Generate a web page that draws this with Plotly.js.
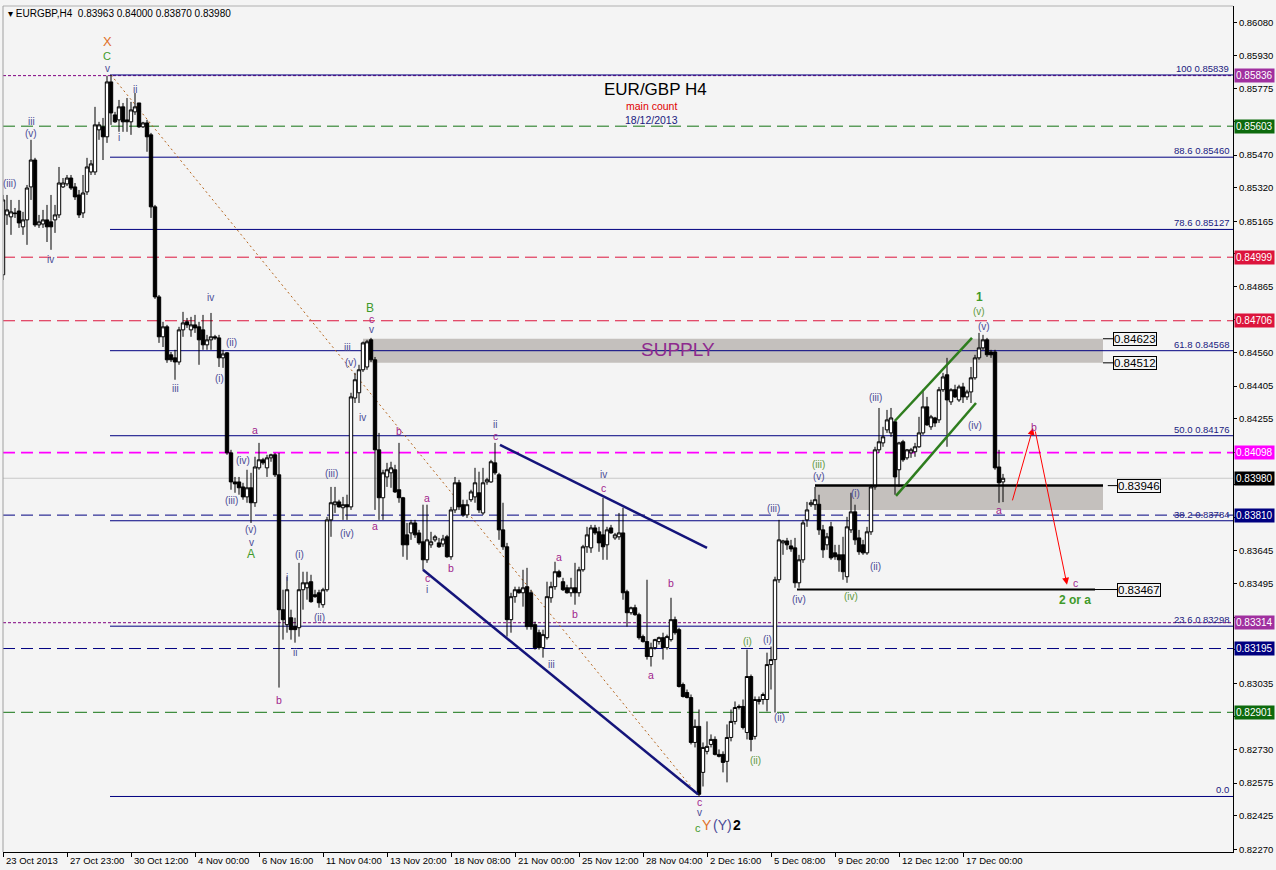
<!DOCTYPE html>
<html><head><meta charset="utf-8">
<script src="https://cdn.plot.ly/plotly-3.0.1.min.js"></script>
<style>html,body{margin:0;padding:0;background:#f4f4f4;}#chart{width:1276px;height:870px;}</style>
</head><body><div id="chart"></div>
<script>
// ---- OHLC data (EURGBP H4), bar index 0..250 ----
const opens = [
.84918,.85194,.85185,.85203,.85212,.85139,.85171,.85323,.85447,.85148,
.85152,.85171,.85162,.85171,.85194,.85323,.85337,.85364,.85323,.85286,
.85203,.85300,.85392,.85392,.85586,.85600,.85554,.85807,.85655,.85632,
.85692,.85632,.85623,.85669,.85710,.85600,.85618,.85563,.85231,.84816,
.84632,.84678,.84549,.84535,.84516,.84664,.84701,.84664,.84687,.84678,
.84664,.84595,.84618,.84632,.84627,.84535,.84558,.84097,.83963,.83963,
.83940,.83894,.83936,.83867,.84028,.84065,.84028,.84074,.84088,.83996,
.83374,.83305,.83337,.83296,.83291,.83466,.83475,.83503,.83443,.83452,
.83397,.83466,.83788,.83858,.83871,.83844,.83858,.83848,.84350,.84374,
.84480,.84493,.84618,.84526,.84111,.83890,.83986,.84005,.84019,.83927,
.83890,.83719,.83728,.83774,.83728,.83687,.83604,.83673,.83696,.83682,
.83677,.83710,.83618,.83834,.83959,.83858,.83811,.83881,.83894,.83913,
.83820,.83963,.83963,.84051,.83996,.83742,.83664,.83328,.83434,.83466,
.83452,.83480,.83452,.83305,.83268,.83199,.83245,.83429,.83480,.83549,
.83503,.83475,.83452,.83475,.83452,.83558,.83664,.83659,.83751,.83733,
.83719,.83673,.83751,.83705,.83710,.83728,.83457,.83360,.83383,.83351,
.83250,.83227,.83158,.83199,.83227,.83245,.83199,.83236,.83328,.83282,
.83029,.82992,.82969,.82762,.82836,.82624,.82721,.82753,.82776,.82707,
.82707,.82675,.82785,.82859,.82923,.82928,.82808,.83066,.82790,.82951,
.82960,.82960,.83121,.83144,.83512,.83682,.83691,.83668,.83659,.83498,
.83604,.83788,.83858,.83858,.83860,.83742,.83673,.83756,.83636,.83627,
.83627,.83526,.83742,.83825,.83705,.83673,.83636,.83733,.83940,.84111,
.84143,.84203,.84189,.84240,.84019,.84148,.84074,.84097,.84102,.84125,
.84189,.84309,.84217,.84258,.84249,.84388,.84457,.84332,.84388,.84341,
.84401,.84355,.84378,.84443,.84535,.84581,.84618,.84562,.84562,.84032,
.83963];
const highs = [
.85286,.85286,.85263,.85226,.85263,.85208,.85332,.85540,.85457,.85194,
.85217,.85240,.85286,.85240,.85415,.85364,.85378,.85378,.85341,.85309,
.85378,.85457,.85447,.85692,.85623,.85641,.85836,.85839,.85669,.85724,
.85710,.85733,.85715,.85756,.85710,.85623,.85632,.85572,.85240,.84825,
.84701,.84687,.84562,.84572,.84678,.84747,.84719,.84724,.84733,.84701,
.84733,.84641,.84742,.84641,.84641,.84572,.84562,.84111,.83986,.83986,
.83959,.84019,.84005,.84079,.84143,.84074,.84088,.84093,.84097,.84097,
.83466,.83526,.83374,.83337,.83590,.83549,.83549,.83535,.83466,.83466,
.83475,.83802,.83940,.83940,.83881,.83894,.83904,.84374,.84466,.84503,
.84610,.84618,.84627,.84539,.84189,.84019,.84051,.84056,.84042,.84143,
.83894,.83774,.83788,.83788,.83742,.83858,.83858,.83733,.83719,.83705,
.83719,.83719,.83848,.83986,.83973,.83881,.83881,.83927,.84028,.84010,
.84028,.83982,.84065,.84143,.84005,.83867,.83682,.83452,.83480,.83480,
.83558,.83567,.83466,.83319,.83282,.83282,.83503,.83503,.83595,.83558,
.83521,.83489,.83521,.83590,.83572,.83673,.83756,.83765,.83765,.83756,
.83890,.83756,.83765,.83728,.83820,.83844,.83466,.83388,.83397,.83360,
.83259,.83512,.83222,.83240,.83250,.83268,.83259,.83429,.83342,.83291,
.83038,.83006,.82983,.82868,.82914,.82762,.82859,.82799,.82790,.82730,
.82721,.82845,.82914,.82951,.82937,.82960,.83190,.83075,.82974,.82974,
.82992,.83176,.83204,.83526,.83788,.83696,.83705,.83696,.83705,.83627,
.83788,.83871,.83881,.83940,.83904,.83765,.83728,.83779,.83673,.83673,
.83710,.83802,.83913,.83858,.83742,.83696,.83756,.83950,.84125,.84304,
.84217,.84295,.84304,.84249,.84148,.84157,.84115,.84120,.84143,.84263,
.84388,.84355,.84272,.84263,.84401,.84466,.84535,.84395,.84411,.84411,
.84420,.84388,.84493,.84549,.84650,.84641,.84627,.84572,.84572,.84111,
.84000];
const lows = [
.84894,.85148,.85102,.85180,.85134,.85102,.85056,.85263,.85139,.85134,
.85134,.85069,.85033,.85111,.85180,.85318,.85327,.85309,.85263,.85180,
.85180,.85286,.85378,.85378,.85540,.85447,.85526,.85609,.85618,.85577,
.85577,.85577,.85563,.85655,.85595,.85595,.85485,.85180,.84807,.84604,
.84585,.84512,.84516,.84434,.84503,.84632,.84673,.84632,.84650,.84503,
.84572,.84572,.84572,.84618,.84493,.84489,.84088,.83927,.83913,.83904,
.83881,.83867,.83774,.83848,.84019,.84042,.83986,.84056,.83986,.83015,
.83236,.83268,.83236,.83222,.83250,.83374,.83420,.83406,.83429,.83383,
.83383,.83457,.83710,.83820,.83845,.83788,.83788,.83834,.84327,.84327,
.84470,.84480,.84516,.83834,.83788,.83788,.83940,.83936,.83912,.83867,
.83618,.83604,.83696,.83705,.83673,.83558,.83590,.83659,.83687,.83659,
.83664,.83613,.83604,.83820,.83834,.83802,.83797,.83871,.83867,.83820,
.83811,.83950,.83959,.83996,.83696,.83650,.83250,.83268,.83406,.83448,
.83388,.83282,.83282,.83190,.83190,.83153,.83236,.83406,.83466,.83522,
.83460,.83448,.83434,.83397,.83434,.83549,.83636,.83636,.83719,.83641,
.83604,.83604,.83724,.83696,.83696,.83420,.83296,.83351,.83346,.83236,
.83222,.83144,.83112,.83190,.83213,.83144,.83190,.83227,.83259,.83015,
.82969,.82965,.82753,.82739,.82513,.82559,.82707,.82739,.82702,.82693,
.82624,.82578,.82767,.82845,.82914,.82822,.82776,.82721,.82776,.82937,
.82937,.82905,.83006,.82900,.83498,.83627,.83650,.83641,.83475,.83475,
.83590,.83756,.83848,.83834,.83719,.83613,.83650,.83604,.83604,.83549,
.83512,.83498,.83728,.83673,.83627,.83627,.83627,.83719,.83927,.84097,
.84125,.84189,.84171,.83904,.83940,.84056,.84065,.84074,.84079,.84120,
.84180,.84222,.84203,.84217,.84235,.84378,.84125,.84318,.84350,.84332,
.84327,.84341,.84327,.84434,.84526,.84572,.84539,.84535,.84019,.83867,
.83870];
const closes = [
.85263,.85217,.85208,.85200,.85157,.85171,.85318,.85447,.85148,.85162,
.85171,.85139,.85139,.85194,.85341,.85341,.85364,.85318,.85277,.85194,
.85295,.85415,.85429,.85609,.85609,.85554,.85807,.85664,.85623,.85692,
.85623,.85623,.85678,.85692,.85600,.85618,.85554,.85231,.84816,.84632,
.84678,.84526,.84526,.84516,.84664,.84696,.84687,.84687,.84673,.84618,
.84595,.84618,.84632,.84627,.84535,.84553,.84097,.83963,.83954,.83936,
.83894,.83936,.83867,.84032,.84065,.84051,.84074,.84088,.83996,.83374,
.83328,.83466,.83282,.83282,.83466,.83498,.83498,.83411,.83434,.83406,
.83466,.83788,.83867,.83871,.83848,.83858,.83848,.84355,.84434,.84480,
.84604,.84609,.84526,.84111,.83890,.84005,.84019,.84028,.83917,.83890,
.83673,.83673,.83774,.83719,.83682,.83604,.83696,.83687,.83710,.83664,
.83700,.83618,.83834,.83959,.83848,.83811,.83858,.83917,.83959,.83834,
.83959,.83973,.84056,.84005,.83742,.83664,.83328,.83434,.83466,.83452,
.83475,.83296,.83296,.83199,.83199,.83259,.83434,.83480,.83549,.83526,
.83466,.83452,.83475,.83452,.83558,.83664,.83719,.83751,.83728,.83682,
.83664,.83742,.83728,.83719,.83728,.83452,.83360,.83383,.83351,.83245,
.83227,.83158,.83199,.83236,.83245,.83199,.83250,.83328,.83268,.83020,
.82974,.82969,.82762,.82836,.82523,.82739,.82744,.82776,.82707,.82698,
.82670,.82785,.82859,.82923,.82928,.82831,.83066,.82776,.82960,.82960,
.82983,.83121,.83144,.83512,.83696,.83691,.83673,.83654,.83498,.83604,
.83774,.83834,.83867,.83881,.83742,.83650,.83710,.83613,.83618,.83604,
.83549,.83756,.83825,.83696,.83641,.83636,.83733,.83940,.84111,.84148,
.84171,.84249,.84258,.83986,.84143,.84065,.84111,.84111,.84125,.84189,
.84309,.84226,.84263,.84235,.84388,.84447,.84341,.84388,.84355,.84401,
.84355,.84378,.84443,.84535,.84581,.84618,.84549,.84549,.84028,.83959,
.83980];

// time axis labels (every 16 bars)
const xTickIdx = [0,16,32,48,64,80,96,112,128,144,160,176,192,208,224,240];
const xTickLabels = ["23 Oct 2013","27 Oct 23:00","30 Oct 12:00","4 Nov 00:00","6 Nov 16:00","11 Nov 04:00","13 Nov 20:00","18 Nov 08:00","21 Nov 00:00","25 Nov 12:00","28 Nov 04:00","2 Dec 16:00","5 Dec 08:00","9 Dec 20:00","12 Dec 12:00","17 Dec 00:00"];
// price axis ticks (labels hidden under the price tags are left blank)
const yTickVals = [0.86080,0.85930,0.85775,0.85625,0.85470,0.85320,0.85165,0.85015,0.84865,0.84710,0.84560,0.84405,0.84255,0.84100,0.83950,0.83800,0.83645,0.83495,0.83340,0.83190,0.83035,0.82880,0.82730,0.82575,0.82425,0.82270];
const yTickText = ["0.86080","0.85930","0.85775","","0.85470","0.85320","0.85165","","0.84865","","0.84560","0.84405","0.84255","","","","0.83645","0.83495","","","0.83035","","0.82730","0.82575","0.82425","0.82270"];
// fibonacci retracement
const fiboPct = ["100","88.6","78.6","61.8","50.0","38.2","23.6","0.0"];
const fiboLevels = [0.85839,0.85460,0.85127,0.84568,0.84176,0.83784,0.83298,0.82513];
// horizontal levels with price tags
const hLevels = [0.85836,0.85603,0.84999,0.84706,0.84098,0.83980,0.83810,0.83314,0.83195,0.82901];
const hKinds  = ["purpleDot","greenDash","redDash","redDash","magentaDash","current","navyDash","purpleDot","navyDash","greenDash"];
// zones / marked levels
const supplyZone = [0.84512,0.84623];
const demandZone = [0.83834,0.83946];
const targetLevel = 0.83467;

const FONT = "Liberation Sans, Arial, sans-serif";
const styles = {
  purpleDot:{line:'#800080', dash:'3px,2px', w:1, tag:'#a0309f'},
  greenDash:{line:'#137313', dash:'12px,6px', w:1, tag:'#0d6a0d'},
  redDash:{line:'#dc143c', dash:'12px,6px', w:1, tag:'#dc143c'},
  magentaDash:{line:'#ff00ff', dash:'12px,6px', w:1.6, tag:'#ff00ff'},
  current:{line:'#c8c8c8', dash:'solid', w:1, tag:'#000000'},
  navyDash:{line:'#000080', dash:'12px,6px', w:1, tag:'#000080'}
};

const idx = opens.map((_, i) => i);
const trace = {
  type:'candlestick', x: idx, open: opens, high: highs, low: lows, close: closes,
  increasing:{line:{color:'#000000', width:1}, fillcolor:'#ffffff'},
  decreasing:{line:{color:'#000000', width:1}, fillcolor:'#000000'},
  whiskerwidth:0, hoverinfo:'skip', showlegend:false
};

const shapes = [];
const annotations = [];
const XMAX = 307.5;
// zones
shapes.push({type:'rect', xref:'x', yref:'y', x0:90, x1:275, y0:supplyZone[0], y1:supplyZone[1], fillcolor:'#c4c0bd', line:{width:0}, layer:'below'});
shapes.push({type:'rect', xref:'x', yref:'y', x0:203, x1:275, y0:demandZone[0], y1:demandZone[1], fillcolor:'#c4c0bd', line:{width:0}, layer:'below'});
// horizontal full-width levels
hLevels.forEach((lv, k) => {
  const s = styles[hKinds[k]];
  shapes.push({type:'line', xref:'paper', yref:'y', x0:0, x1:1, y0:lv, y1:lv, line:{color:s.line, width:s.w, dash:s.dash}, layer:'below'});
  annotations.push({xref:'paper', yref:'y', x:1, y:lv, xanchor:'left', yanchor:'middle', xshift:1, text:lv.toFixed(5), showarrow:false,
    font:{family:FONT, size:10, color:'#ffffff'}, bgcolor:s.tag, borderpad:1});
});
// fibonacci lines & labels
fiboLevels.forEach((lv, k) => {
  shapes.push({type:'line', xref:'x', yref:'y', x0:26.75, x1:XMAX, y0:lv, y1:lv, line:{color:'#000080', width:1}, layer:'below'});
  annotations.push({xref:'paper', yref:'y', x:1, y:lv, xanchor:'right', yanchor:'bottom', xshift:-2, yshift:-1,
    text: k === fiboLevels.length - 1 ? fiboPct[k] : fiboPct[k] + ' ' + lv.toFixed(5), showarrow:false,
    font:{family:FONT, size:9.5, color:'#1a1a80'}});
});
// thick black level lines
shapes.push({type:'line', xref:'x', yref:'y', x0:203, x1:275, y0:demandZone[1], y1:demandZone[1], line:{color:'#000', width:2.5}});
shapes.push({type:'line', xref:'x', yref:'y', x0:198.5, x1:273, y0:targetLevel, y1:targetLevel, line:{color:'#000', width:2}});
// boxed price labels with leaders
const boxed = [[supplyZone[1], 275, 277.6],[supplyZone[0], 275, 277.6],[demandZone[1], 276.2, 278.6],[targetLevel, 273, 278.6]];
boxed.forEach(([lv, a, b]) => {
  shapes.push({type:'line', xref:'x', yref:'y', x0:a, x1:b, y0:lv, y1:lv, line:{color:'#000', width:1}});
  annotations.push({xref:'x', yref:'y', x:b, y:lv, xanchor:'left', yanchor:'middle', text:lv.toFixed(5), showarrow:false,
    font:{family:FONT, size:11.5, color:'#000'}, bordercolor:'#000', borderwidth:1, borderpad:0});
});
// trend / channel lines
shapes.push({type:'line', xref:'x', yref:'y', x0:27, y0:0.85839, x1:174, y1:0.82513, line:{color:'#b5651d', width:1, dash:'2px,3px'}, layer:'below'});
shapes.push({type:'line', xref:'x', yref:'y', x0:105, y0:0.83558, x1:173.75, y1:0.82523, line:{color:'#14147a', width:2.5}});
shapes.push({type:'line', xref:'x', yref:'y', x0:124.25, y0:0.84134, x1:176, y1:0.83659, line:{color:'#14147a', width:2.5}});
shapes.push({type:'line', xref:'x', yref:'y', x0:223, y0:0.84245, x1:242.25, y1:0.84627, line:{color:'#2e7d1e', width:2.5}});
shapes.push({type:'line', xref:'x', yref:'y', x0:223.25, y0:0.83899, x1:243.25, y1:0.84327, line:{color:'#2e7d1e', width:2.5}});
// frame
shapes.push({type:'line', xref:'paper', yref:'paper', x0:0, x1:1, y0:1, y1:1, line:{color:'#b0b0b0', width:1}});
shapes.push({type:'line', xref:'paper', yref:'paper', x0:0, x1:0, y0:0, y1:1, line:{color:'#a0a0a0', width:1}});

// projected path arrows
annotations.push({xref:'x', yref:'y', axref:'x', ayref:'y', x:257.5, y:0.84212, ax:252.25, ay:0.83871, text:'', showarrow:true, arrowhead:2, arrowsize:1.4, arrowwidth:1, arrowcolor:'#ff0000'});
annotations.push({xref:'x', yref:'y', axref:'x', ayref:'y', x:266, y:0.83489, ax:258, ay:0.84203, text:'', showarrow:true, arrowhead:2, arrowsize:1.4, arrowwidth:1, arrowcolor:'#ff0000'});

// x labels
xTickIdx.forEach((p, k) => annotations.push({xref:'x', yref:'paper', x:p, y:0, xanchor:'left', yanchor:'top', xshift:1, yshift:-1,
  text:xTickLabels[k], showarrow:false, font:{family:FONT, size:9.5, color:'#000'}}));

// wave labels
const C = {n:'#4a4a96', p:'#a01e8c', g:'#3f9a2a', gr:'#5f9a3c', o:'#e07028', k:'#000000', r:'#e00000', nv:'#1a1a80', pu:'#8e2a8e'};
const labels = [
 ['X',26,0.85993,'o',13],['C',26,0.85925,'g',11],['v',26,0.85870,'n',10],
 ['(iii)',1.5,0.85337,'n',10],['iii',7,0.85623,'n',10],['(v)',7,0.85567,'n',10],['iv',11.75,0.84987,'n',10],
 ['ii',33,0.85770,'n',10],['i',29,0.85549,'n',10],['iv',51.75,0.84811,'n',10],['(ii)',57,0.84604,'n',10],
 ['(i)',54,0.84438,'n',10],['iii',43,0.84392,'n',10],['a',63,0.84203,'p',10.5],['(iv)',60,0.84060,'n',10],
 ['(iii)',57,0.83876,'n',10],['(v)',62,0.83742,'n',10],['v',62,0.83682,'n',10],['A',62,0.83631,'g',12],
 ['(i)',74,0.83627,'n',10],['i',71,0.83521,'n',10],['(ii)',79,0.83336,'n',10],['ii',73,0.83179,'n',10],
 ['b',69,0.82960,'p',10.5],['(iii)',82,0.84000,'n',10],['(iv)',86,0.83723,'n',10],['iii',86,0.84585,'n',10],
 ['(v)',87,0.84512,'n',10],['iv',89.75,0.84258,'n',10],['B',91.75,0.84765,'g',12],['c',92,0.84714,'p',10.5],
 ['v',92,0.84664,'n',10],['a',93,0.83760,'p',10.5],['b',99,0.84198,'p',10.5],['a',106,0.83890,'p',10.5],
 ['c',106,0.83521,'p',10.5],['i',106,0.83466,'n',10],['b',112,0.83567,'p',10.5],['ii',123,0.84226,'n',10],
 ['c',123,0.84175,'p',10.5],['iv',150,0.83996,'n',10],['c',150,0.83936,'p',10.5],['a',139,0.83618,'p',10.5],
 ['b',143,0.83355,'p',10.5],['iii',137,0.83120,'n',10],['b',167,0.83498,'p',10.5],['a',162,0.83075,'p',10.5],
 ['c',174,0.82488,'p',10.5],['v',174,0.82437,'n',10],
 ['c',173.75,0.82366,'g',11],['Y',176,0.82382,'o',14],['(Y)',179.75,0.82382,'n',14],['<b>2</b>',183.5,0.82382,'k',14],
 ['(i)',186,0.83227,'gr',10],['(i)',191,0.83236,'n',10],['(ii)',188,0.82677,'gr',10],['(ii)',194,0.82875,'n',10],
 ['(iii)',192.5,0.83839,'n',10],['(iv)',199,0.83420,'n',10],['(iii)',203.75,0.84042,'gr',10],['(v)',204,0.83986,'n',10],
 ['(i)',213,0.83908,'n',10],['(iv)',212,0.83433,'gr',10],['(ii)',218,0.83572,'n',10],['(iii)',218,0.84350,'n',10],
 ['<b>1</b>',244,0.84816,'g',12],['(v)',244,0.84747,'gr',10],['(v)',245.25,0.84678,'n',10],['(iv)',243,0.84221,'n',10],
 ['b',257.75,0.84217,'p',10.5],['a',249,0.83834,'p',10.5],['c',268,0.83498,'p',10.5],['<b>2 or a</b>',268,0.83420,'g',12],
 ['EUR/GBP H4',163,0.85770,'k',17],['main count',162,0.85697,'r',10.5],['18/12/2013',162,0.85632,'nv',10.5],
 ['SUPPLY',168.75,0.84572,'pu',19]
];
labels.forEach(([t, x, y, c, s]) => annotations.push({xref:'x', yref:'y', x:x, y:y, text:t, showarrow:false,
  xanchor:'center', yanchor:'middle', borderpad:0, font:{family:FONT, size:s, color:C[c]}}));
// header
annotations.push({xref:'paper', yref:'paper', x:0, y:1, xanchor:'left', yanchor:'top', xshift:3, yshift:0,
  text:'\u25BE EURGBP,H4  0.83963 0.84000 0.83870 0.83980', showarrow:false, font:{family:FONT, size:10, color:'#000'}});

const layout = {
  width:1276, height:870,
  margin:{l:3, r:43, t:6, b:18, autoexpand:false},
  paper_bgcolor:'#f4f4f4', plot_bgcolor:'#f4f4f4',
  showlegend:false, boxgap:0.15, boxgroupgap:0,
  xaxis:{type:'linear', range:[0, XMAX], showgrid:false, zeroline:false, rangeslider:{visible:false},
    showline:true, linecolor:'#000', linewidth:1, ticks:'outside', ticklen:4, tickcolor:'#000',
    tickvals:xTickIdx, showticklabels:false, fixedrange:true},
  yaxis:{side:'right', range:[0.82257, 0.86157], showgrid:false, zeroline:false, showline:true, linecolor:'#000', linewidth:1,
    ticks:'outside', ticklen:3, tickcolor:'#000', tickvals:yTickVals, ticktext:yTickText,
    tickfont:{family:FONT, size:9.5, color:'#000'}},
  shapes:shapes, annotations:annotations, hovermode:false
};
Plotly.newPlot('chart', [trace], layout, {staticPlot:true, displayModeBar:false});
</script>
</body></html>
